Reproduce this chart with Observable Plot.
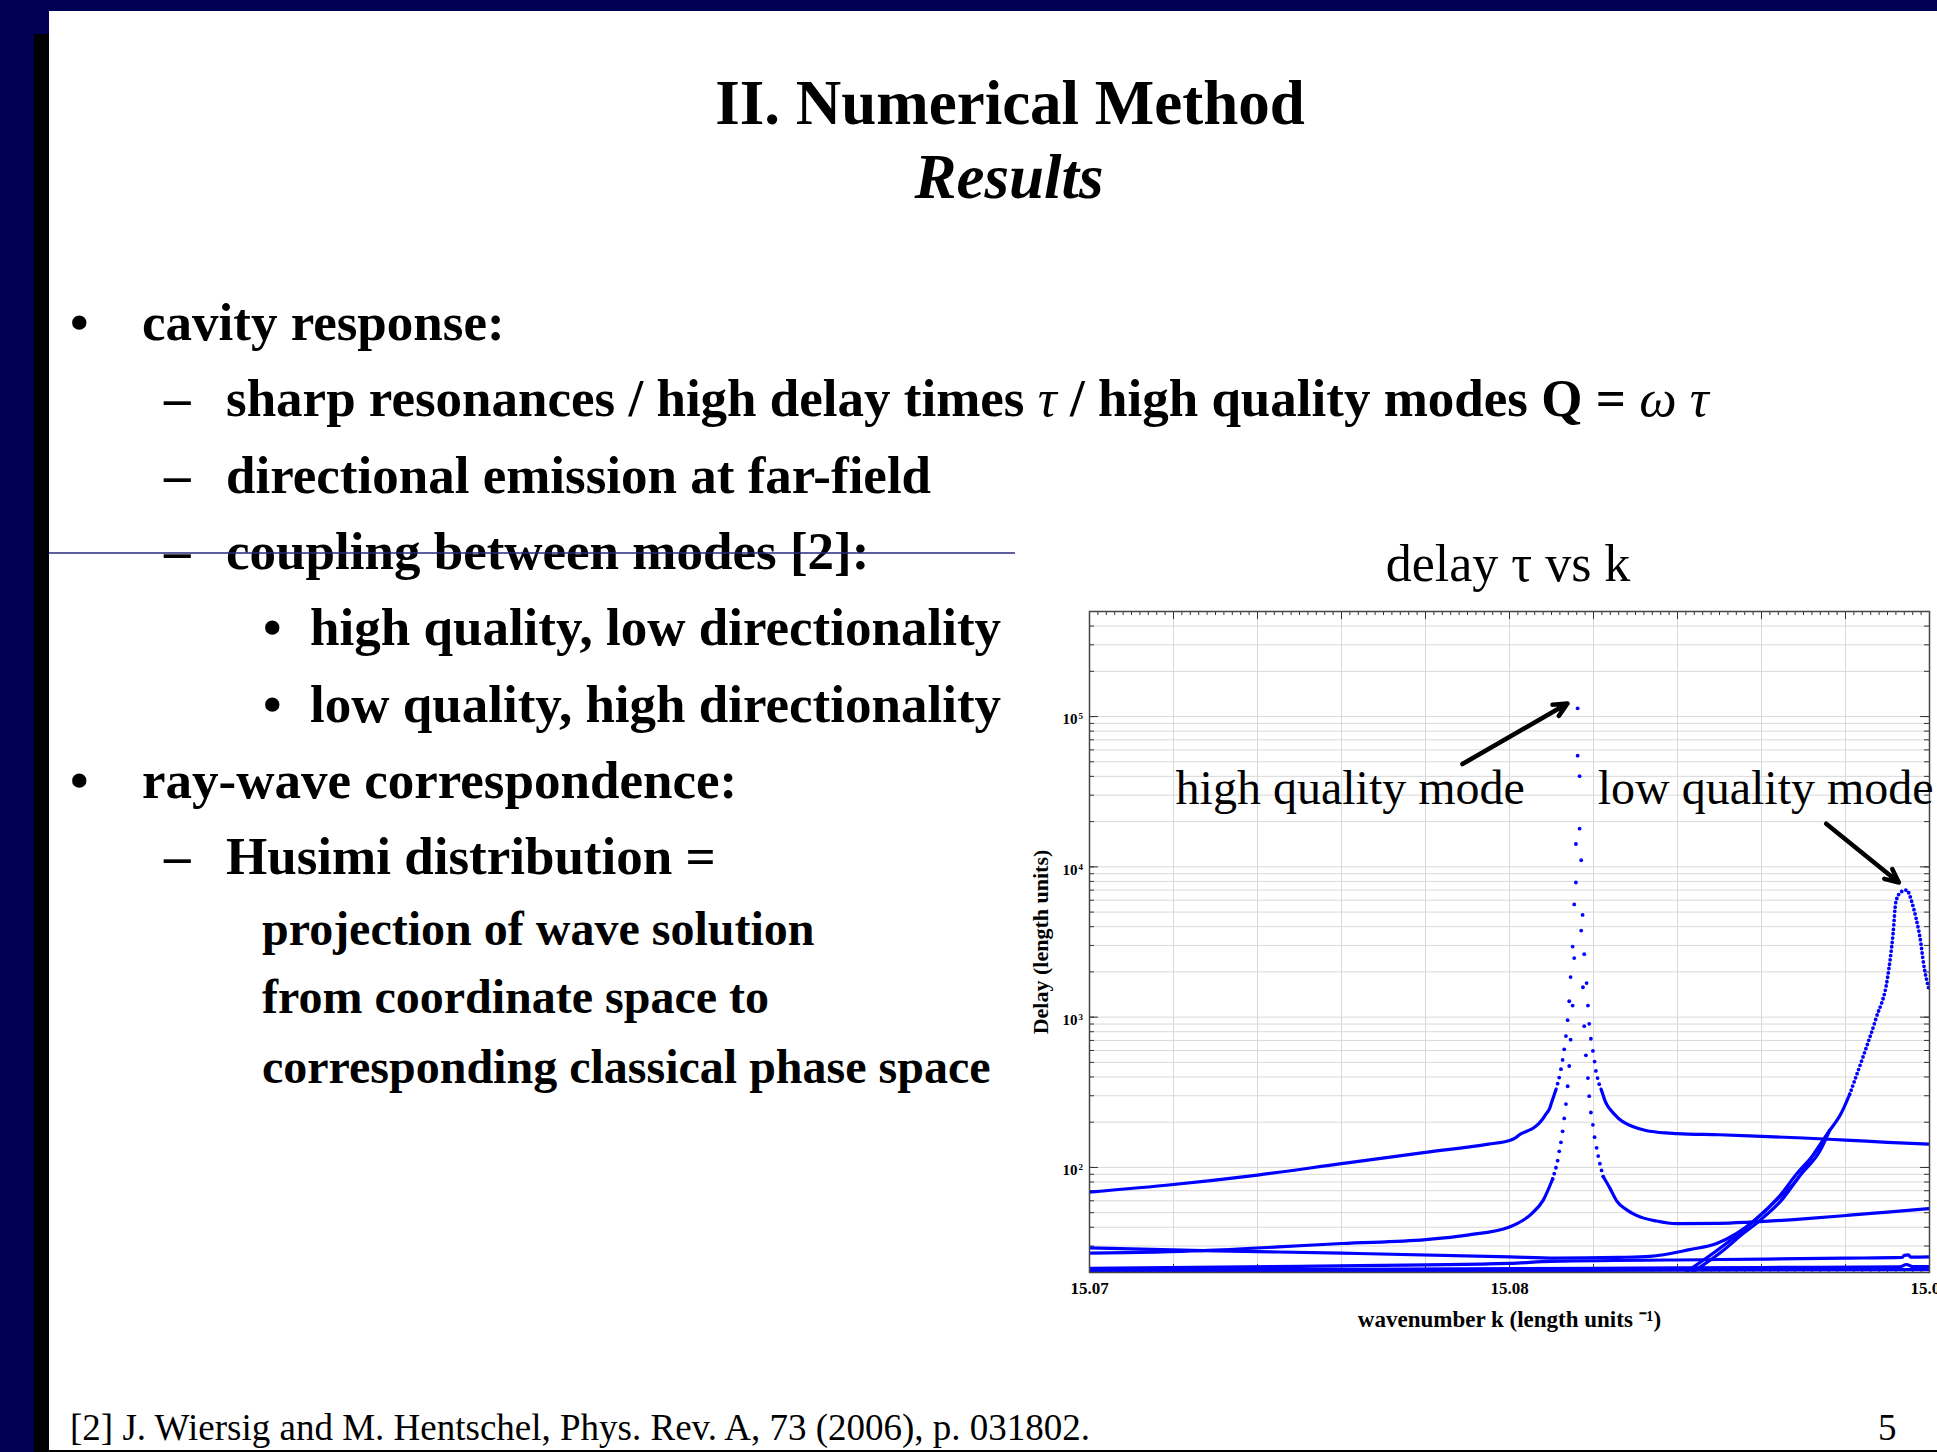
<!DOCTYPE html>
<html>
<head>
<meta charset="utf-8">
<title>II. Numerical Method – Results</title>
<script src="https://cdn.jsdelivr.net/npm/d3@7"></script>
<script src="https://cdn.jsdelivr.net/npm/@observablehq/plot@0.6"></script>
<style>
  html, body { margin: 0; padding: 0; background: #fff; }
  #slide { position: relative; width: 1937px; height: 1452px; overflow: hidden; background: #fff; }
  #deck { position: absolute; left: 0; top: 0; }
  #chart { position: absolute; left: 1000px; top: 590px; }
  #deck text { font-family: "Liberation Serif", "Times New Roman", serif; fill: #000; }
  .b { font-weight: bold; }
</style>
</head>
<body>
<div id="slide">
  <svg id="deck" width="1937" height="1452" xmlns="http://www.w3.org/2000/svg">
    <!-- slide frame -->
    <rect x="0" y="0" width="1937" height="11" fill="#000055"/>
    <rect x="0" y="0" width="34" height="1452" fill="#000055"/>
    <rect x="34" y="0" width="15" height="34" fill="#000055"/>
    <rect x="34" y="34" width="15" height="1418" fill="#000000"/>
    <rect x="34" y="1450" width="1903" height="2" fill="#000000"/>

    <!-- heading -->
    <text class="b" x="1010" y="124" font-size="63" text-anchor="middle">II. Numerical Method</text>
    <text class="b" x="1009" y="198" font-size="63" text-anchor="middle" font-style="italic">Results</text>

    <!-- bullets -->
    <g font-size="53" font-weight="bold">
      <text x="70" y="340">•</text>
      <text x="142" y="340">cavity response:</text>
      <text x="164" y="416">–</text>
      <text x="226" y="416">sharp resonances / high delay times <tspan font-style="italic" font-weight="normal">τ</tspan> / high quality modes Q = <tspan font-style="italic" font-weight="normal">ω τ</tspan></text>
      <text x="164" y="493">–</text>
      <text x="226" y="493">directional emission at far-field</text>
      <text x="164" y="569">–</text>
      <text x="226" y="569">coupling between modes [2]:</text>
      <text x="263" y="645">•</text>
      <text x="310" y="645">high quality, low directionality</text>
      <text x="263" y="722">•</text>
      <text x="310" y="722">low quality, high directionality</text>
      <text x="70" y="798">•</text>
      <text x="142" y="798">ray-wave correspondence:</text>
      <text x="164" y="874">–</text>
      <text x="226" y="874">Husimi distribution =</text>
    </g>
    <g font-size="48" font-weight="bold">
      <text x="262" y="945">projection of wave solution</text>
      <text x="262" y="1013">from coordinate space to</text>
      <text x="262" y="1083">corresponding classical phase space</text>
    </g>
    <line x1="49" y1="553" x2="1015" y2="553" stroke="#2a2a80" stroke-width="1.5"/>

    <!-- chart heading -->
    <text x="1508" y="581" font-size="52" text-anchor="middle">delay τ vs k</text>

    <!-- footer -->
    <text x="70" y="1440" font-size="37">[2] J. Wiersig and M. Hentschel, Phys. Rev. A, 73 (2006), p. 031802.</text>
    <text x="1878" y="1440" font-size="37">5</text>
  </svg>
  <div id="chart"></div>
</div>
<script>
// Delay time versus wavenumber k; each branch is a list of [k, delay] samples.

// Upper branch of the high-quality resonance
const branchALeft = [[15.0700,68.6],[15.0720,77],[15.0740,89],[15.0760,106],[15.0780,126],[15.0795,143],[15.0800,151],[15.08015,158],[15.08025,166],[15.08041,174],[15.08057,183],[15.08069,195],[15.08079,210],[15.08087,227],[15.08095,245],[15.08099,264],[15.08103,285],[15.08107,308],[15.08111,332]];
const branchAPeak = [[15.081146,361],[15.081184,396],[15.081225,451],[15.081265,519],[15.081303,611],[15.081344,748],[15.081384,955],[15.081422,1276],[15.081455,1849],[15.081503,2950],[15.081541,5620],[15.081581,14190],[15.081622,113500],[15.081669,17950],[15.081707,11070],[15.081741,4790],[15.081779,2626],[15.081836,1686],[15.081867,1194],[15.081898,903],[15.081938,718],[15.081986,596],[15.082026,506],[15.082057,439],[15.082097,393],[15.082136,358]];
const branchARight = [[15.08218,332],[15.08222,308],[15.08226,285],[15.08231,264],[15.08239,245],[15.08249,227],[15.08261,210],[15.08279,195],[15.08298,185],[15.08318,178],[15.08334,174],[15.0840,168],[15.0850,165],[15.0860,161],[15.0870,157],[15.0880,152],[15.0890,147],[15.0900,143]];

// Lower branch of the high-quality resonance
const branchBLeft = [[15.0700,26.9],[15.0727,28.0],[15.0745,29.6],[15.0760,31.2],[15.0780,33.1],[15.0790,35.5],[15.0800,40.2],[15.08053,49.3],[15.0808,60.4],[15.081027,83.8]];
const branchBPeak = [[15.081027,83.8],[15.081065,90.9],[15.081106,99.5],[15.081146,111],[15.081184,128],[15.081225,147],[15.081265,174],[15.081303,212],[15.081344,264],[15.081384,347],[15.081422,473],[15.081455,708],[15.081503,1194],[15.081541,2472],[15.081581,7870],[15.081622,54900],[15.081669,40100],[15.081707,3770],[15.081748,1581],[15.081779,871],[15.081819,557],[15.081867,393],[15.081898,298],[15.081938,232],[15.081986,192],[15.082026,159],[15.082074,135],[15.082112,119],[15.082152,106],[15.082193,95.5],[15.082231,87]];
const branchBRight = [[15.082231,87],[15.0824,72],[15.08255,60],[15.0828,52],[15.08302,48],[15.0835,44],[15.08398,42.3],[15.0850,42.5],[15.08572,43.3],[15.0870,45.5],[15.0881,48.1],[15.0890,50.5],[15.0900,53.3]];

// Branches feeding the low-quality mode
const branchC = [[15.0700,29.2],[15.0727,28.0],[15.0760,26.9],[15.0800,25.4],[15.0811,24.9],[15.0826,25.2],[15.08334,25.6],[15.08429,28.4],[15.08493,31.2],[15.0854,36.3],[15.08588,45.6],[15.08643,64.6],[15.08683,90],[15.0873,128],[15.08762,176]];
const branchL1 = [[15.08421,20.2],[15.08493,27.9],[15.0854,35.1],[15.0858,43.6],[15.08635,60.4],[15.08683,82],[15.0873,130],[15.08762,176]];
const branchL2 = [[15.08437,20.2],[15.08508,27.9],[15.08556,36.3],[15.08596,44.4],[15.08651,62],[15.08691,88],[15.0874,130],[15.08762,176]];
const lowModeRise = [[15.08762,176],[15.0879,230],[15.0881,307]];
const lowModePeak = [[15.0881,307],[15.08841,537],[15.08873,988],[15.0890,1820],[15.08913,3530],[15.0892,5860],[15.08932,6800],[15.08945,7010],[15.0896,5570],[15.08968,4550],[15.0898,3030],[15.08984,2470],[15.0900,1486]];

// Background branches near the floor
const branchD = [[15.0700,21.3],[15.0750,22.0],[15.0800,23.0],[15.0810,23.7],[15.0850,24.4],[15.0880,24.9],[15.08935,25.2],[15.0894,26.0],[15.0895,26.2],[15.08955,25.3],[15.0900,25.4]];
const branchF = [[15.0700,20.8],[15.0760,21.0],[15.0820,21.3],[15.0860,21.6],[15.0893,21.8],[15.08945,22.6],[15.0896,21.9],[15.0900,21.9]];
const branchE = [[15.0700,20.5],[15.0800,20.6],[15.0900,20.9]];

// Axis settings
const kDomain = [15.07, 15.09];
const delayDomain = [20, 5e5];
const kLabels = [15.07, 15.08, 15.09];
const decades = [1e2, 1e3, 1e4, 1e5];

// Annotations
const arrows = [
  {k1: 15.07888, d1: 48300, k2: 15.08138, d2: 122000},
  {k1: 15.08754, d1: 19370, k2: 15.08927, d2: 7870}
];
const notes = [
  {k: 15.07205, d: 26100, text: "high quality mode"},
  {k: 15.08210, d: 26100, text: "low quality mode"}
];

const BLUE = "#0000ff";
const rows = (pairs) => pairs.map(([k, d]) => ({k, d}));

const W = 937, H = 760;
const M = {left: 89, right: 8, top: 21, bottom: 78};
const fw = W - M.left - M.right;
const fh = H - M.top - M.bottom;

const kMinor = d3.ticks(kDomain[0], kDomain[1], 100);
const kMajor = d3.ticks(kDomain[0], kDomain[1], 10);
const dMinor = d3.scaleLog().domain(delayDomain).ticks();

const solid = (data) => Plot.line(rows(data), {x: "k", y: "d", stroke: BLUE, strokeWidth: 3.2, curve: "monotone-x", clip: true});
const dotted = (data) => Plot.dot(rows(data), {x: "k", y: "d", r: 1.9, fill: BLUE, clip: true});

const chart = Plot.plot({
  width: W,
  height: H,
  marginLeft: M.left,
  marginRight: M.right,
  marginTop: M.top,
  marginBottom: M.bottom,
  x: {domain: kDomain, axis: null},
  y: {type: "log", domain: delayDomain, axis: null},
  style: {fontFamily: "'Liberation Serif', 'Times New Roman', serif", background: "transparent", overflow: "visible"},
  marks: [
    // grid
    Plot.ruleY(dMinor, {stroke: "#d9d9d9", strokeWidth: 1}),
    Plot.ruleX(kMajor, {stroke: "#d9d9d9", strokeWidth: 1}),
    // inward ticks on all four sides
    Plot.tickY(dMinor, {insetRight: fw - 5, stroke: "#333"}),
    Plot.tickY(dMinor, {insetLeft: fw - 5, stroke: "#333"}),
    Plot.tickY(decades, {insetRight: fw - 9, stroke: "#333"}),
    Plot.tickY(decades, {insetLeft: fw - 9, stroke: "#333"}),
    Plot.tickX(kMinor, {insetBottom: fh - 4, stroke: "#333"}),
    Plot.tickX(kMinor, {insetTop: fh - 4, stroke: "#333"}),
    Plot.tickX(kMajor, {insetBottom: fh - 8, stroke: "#333"}),
    Plot.tickX(kMajor, {insetTop: fh - 8, stroke: "#333"}),
    // data
    solid(branchE),
    solid(branchF),
    solid(branchD),
    solid(branchC),
    solid(branchL1),
    solid(branchL2),
    solid(lowModeRise),
    Plot.line(rows(lowModePeak), {x: "k", y: "d", stroke: BLUE, strokeWidth: 3.8, strokeDasharray: "0 4.4", strokeLinecap: "round", curve: "monotone-x", clip: true}),
    solid(branchALeft),
    dotted(branchAPeak),
    solid(branchARight),
    solid(branchBLeft),
    dotted(branchBPeak),
    solid(branchBRight),
    Plot.frame({stroke: "#444", strokeWidth: 1.5}),
    // tick labels
    Plot.text(kLabels, {x: (d) => d, frameAnchor: "bottom", text: d3.format(".2f"), lineAnchor: "top", dy: 9, fontSize: 17, fontWeight: "bold"}),
    Plot.text(decades, {y: (d) => d, frameAnchor: "left", text: () => "10", textAnchor: "end", dx: -12, dy: 3, fontSize: 15, fontWeight: "bold"}),
    Plot.text(decades, {y: (d) => d, frameAnchor: "left", text: (d) => String(Math.round(Math.log10(d))), textAnchor: "start", dx: -11, dy: 0, fontSize: 9, fontWeight: "bold"}),
    // axis titles
    Plot.text(["Delay (length units)"], {frameAnchor: "left", textAnchor: "middle", lineAnchor: "middle", rotate: -90, dx: -49, fontSize: 22, fontWeight: "bold"}),
    Plot.text(["wavenumber k (length units ⁻¹)"], {frameAnchor: "bottom", textAnchor: "middle", lineAnchor: "middle", dy: 47, fontSize: 23, fontWeight: "bold"}),
    // annotations
    Plot.arrow(arrows, {x1: "k1", y1: "d1", x2: "k2", y2: "d2", stroke: "#000", strokeWidth: 4.5, headLength: 5, headAngle: 50}),
    Plot.text(notes, {x: "k", y: "d", text: "text", textAnchor: "start", lineAnchor: "bottom", fontSize: 48})
  ]
});

document.getElementById("chart").appendChild(chart);
</script>
</body>
</html>
